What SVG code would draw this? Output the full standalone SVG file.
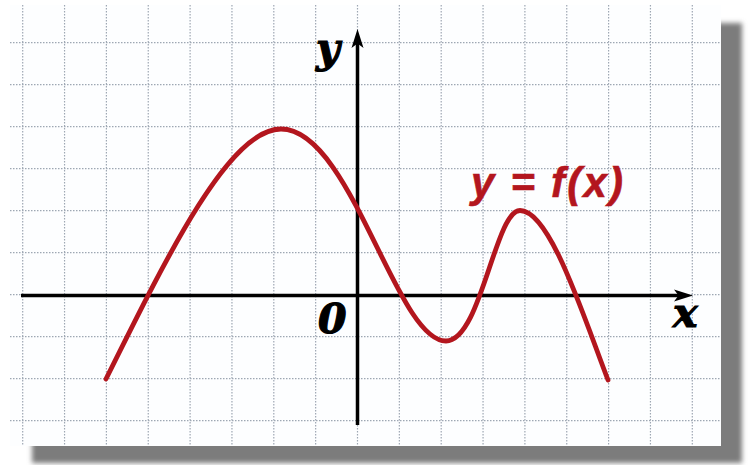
<svg xmlns="http://www.w3.org/2000/svg" width="750" height="465" viewBox="0 0 750 465">
<defs>
<filter id="blur" x="-5%" y="-5%" width="110%" height="110%"><feGaussianBlur stdDeviation="2.5"/></filter>
</defs>
<style>
.grid{stroke:#9ea7b3;stroke-width:1.2;stroke-dasharray:1.5 1.5;fill:none}
.axis{stroke:#000;stroke-width:3.5;fill:none}
.head{fill:#000;stroke:none}
.curve{stroke:#b3161e;stroke-width:4.8;fill:none;stroke-linecap:round;stroke-linejoin:round}
.lbl{font-family:"DejaVu Serif","Liberation Serif",serif;font-weight:bold;font-style:italic;font-size:41px;fill:#000;stroke:#000;stroke-width:1.2}
.fn{font-family:"Liberation Sans","DejaVu Sans",sans-serif;font-weight:bold;font-style:italic;font-size:42px;fill:#b3161e;stroke:#b3161e;stroke-width:0.6}
</style>
<rect width="750" height="465" fill="#ffffff"/>
<rect id="shadow" x="32" y="23" width="710" height="440" fill="#7b7b7b" filter="url(#blur)"/>
<rect id="paper" x="10" y="5" width="711" height="441" fill="#fdfeff"/>
<g id="grid" class="grid">
<path d="M22.7 5V446M64.55 5V446M106.4 5V446M148.25 5V446M190.1 5V446M231.95 5V446M273.8 5V446M315.65 5V446M357.5 5V446M399.35 5V446M441.2 5V446M483.05 5V446M524.9 5V446M566.75 5V446M608.6 5V446M650.45 5V446M692.3 5V446"/>
<path d="M10 42.7H721M10 84.7H721M10 126.7H721M10 168.7H721M10 210.7H721M10 252.7H721M10 294.7H721M10 336.7H721M10 378.7H721M10 420.7H721"/>
</g>
<g id="axes">
<line class="axis" x1="21" y1="295.5" x2="680" y2="295.5"/>
<path class="head" d="M693 295.5L674 289.5L678.5 295.5L674 301.5Z"/>
<line class="axis" x1="357.5" y1="425" x2="357.5" y2="42"/>
<path class="head" d="M357.5 29L351.5 48L357.5 43.5L363.5 48Z"/>
</g>
<g id="curve">
<path class="curve" d="M106 379C170 250 230 129 281 129C351 129 396 341 446 341C481 341 495 210.5 520 210.5C550 210.5 583 315 608 380"/>
</g>
<g id="labels">
<text class="lbl" x="316" y="62">y</text>
<text class="lbl" x="673" y="327">x</text>
<text class="lbl" x="318" y="333" font-size="43">0</text>
<text class="fn" x="471" y="197" textLength="152" lengthAdjust="spacing">y = f(x)</text>
</g>
</svg>
